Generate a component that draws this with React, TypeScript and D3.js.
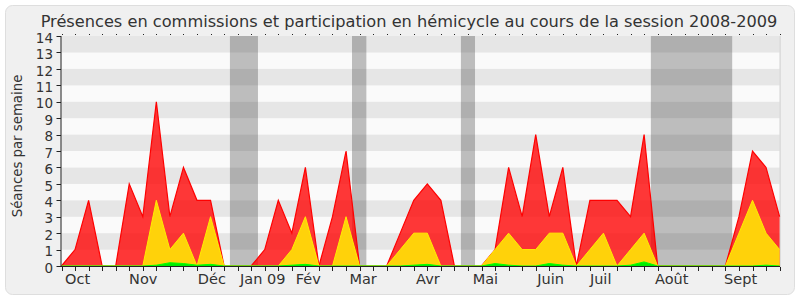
import React from "react";
import * as d3 from "d3";

// Weekly values, session 2008-2009 (week index 0..53)
const weeks = d3.range(54);
const totalSeances = [0,1,4,0,0,5,3,10,3,6,4,4,0,0,0,1,4,2,6,0,3,7,0,0,0,2,4,5,4,0,0,0,1,6,3,8,3,6,0,4,4,4,3,8,0,0,0,0,0,0,3,7,6,3];
const hemicycle = [0,0,0,0,0,0,0,4,1,2,0,3,0,0,0,0,0,1,3,0,0,3,0,0,0,1,2,2,0,0,0,0,1,2,1,1,2,2,0,1,2,0,1,2,0,0,0,0,0,0,2,4,2,1];
const interventions = [0,0,0,0,0,0,0,0.05,0.2,0.15,0.05,0.1,0,0,0,0,0,0.05,0.1,0,0,0,0,0,0,0,0.05,0.1,0,0,0,0,0.15,0.05,0,0,0.15,0.05,0,0,0,0,0.05,0.25,0,0,0,0,0,0,0,0,0.05,0];
// Holiday periods (in week units)
const holidayStart = [12.43, 21.44, 29.48, 43.5];
const holidayEnd = [14.5, 22.5, 30.52, 49.5];
// Month labels and their position (in week units)
const monthLabels = ["Oct", "Nov", "Déc", "Jan 09", "Fév", "Mar", "Avr", "Mai", "Juin", "Juil", "Août", "Sept"];
const monthPos = [0.26, 4.99, 10.06, 13.18, 17.29, 21.25, 26.17, 30.35, 35.12, 39.0, 43.81, 48.9];
const yTicks = d3.range(0, 15);

const FONT = "'DejaVu Sans', sans-serif";

export default function App() {
  const W = 800, H = 300;
  const x = d3.scaleLinear().domain([0, 53]).range([61.5, 779.6]);
  const y = d3.scaleLinear().domain([0, 14]).range([266, 36]);

  const area = (vals: number[]) =>
    d3.area<number>().x((i) => x(i)).y0(y(0)).y1((i) => y(vals[i]))(weeks) || "";
  const line = (vals: number[]) =>
    d3.line<number>().x((i) => x(i)).y((i) => y(vals[i]))(weeks) || "";

  return (
    <div style={{ position: "fixed", left: 0, top: 0 }}>
      <svg width={W} height={H} style={{ display: "block", fontFamily: FONT }}>
        <rect x={0} y={0} width={W} height={H} fill="#ffffff" />
        <rect x={5.5} y={5.5} width={789} height={289} rx={7} fill="#f0f0f0" stroke="#dedede" />
        {/* stripes */}
        {d3.range(0, 14).map((k) => (
          <rect key={k} x={x(0)} y={y(k + 1)} width={x(53) - x(0)} height={y(k) - y(k + 1)}
            fill={k % 2 === 1 ? "#e6e6e6" : "#fafafa"} />
        ))}
        <line x1={x(53) + 0.5} x2={x(53) + 0.5} y1={y(14)} y2={y(0)} stroke="#d0d0d0" />
        {/* holidays */}
        {holidayStart.map((s, i) => (
          <rect key={i} x={x(s)} y={y(14)} width={x(holidayEnd[i]) - x(s)} height={y(0) - y(14)}
            fill="rgb(50,50,50)" fillOpacity={0.3} />
        ))}
        {/* areas */}
        <path d={area(totalSeances)} fill="#ff0000" fillOpacity={0.78} />
        <path d={line(totalSeances)} fill="none" stroke="#ff0000" strokeWidth={1.2} />
        <path d={area(hemicycle)} fill="#ffd20a" />
        <path d={line(hemicycle)} fill="none" stroke="#ffee00" strokeWidth={1} />
        <path d={area(interventions)} fill="#00ee00" />
        <path d={line(interventions)} fill="none" stroke="#00ff00" strokeWidth={1} />
        {/* axes */}
        <line x1={x(0) - 0.5} x2={x(0) - 0.5} y1={y(14)} y2={y(0)} stroke="#222" />
        <line x1={x(0) - 0.5} x2={x(53) + 0.5} y1={y(0) + 0.5} y2={y(0) + 0.5} stroke="#222" />
        {yTicks.map((t) => (
          <g key={t}>
            <line x1={x(0) - 5} x2={x(0) - 0.5} y1={Math.round(y(t)) + 0.5} y2={Math.round(y(t)) + 0.5} stroke="#222" />
            <text x={53} y={y(t)} dy="0.5em" textAnchor="end" fontSize={13.5} fill="#333">{t}</text>
          </g>
        ))}
        {weeks.map((i) => (
          <g key={i}>
            <line x1={Math.round(x(i)) + 0.5} x2={Math.round(x(i)) + 0.5} y1={y(0) + 1} y2={y(0) + 5} stroke="#222" />
            <rect x={Math.round(x(i))} y={34} width={1} height={1} fill="#222" />
          </g>
        ))}
        {monthLabels.map((m, i) => (
          <text key={m} x={x(monthPos[i])} y={283.5} fontSize={14.5} fill="#333">{m}</text>
        ))}
        <text transform="translate(22,146) rotate(-90)" textAnchor="middle" fontSize={13.3} fill="#333">Séances par semaine</text>
        <text x={409} y={26.5} textAnchor="middle" fontSize={16.2} fill="#333">
          Présences en commissions et participation en hémicycle au cours de la session 2008-2009
        </text>
      </svg>
    </div>
  );
}
